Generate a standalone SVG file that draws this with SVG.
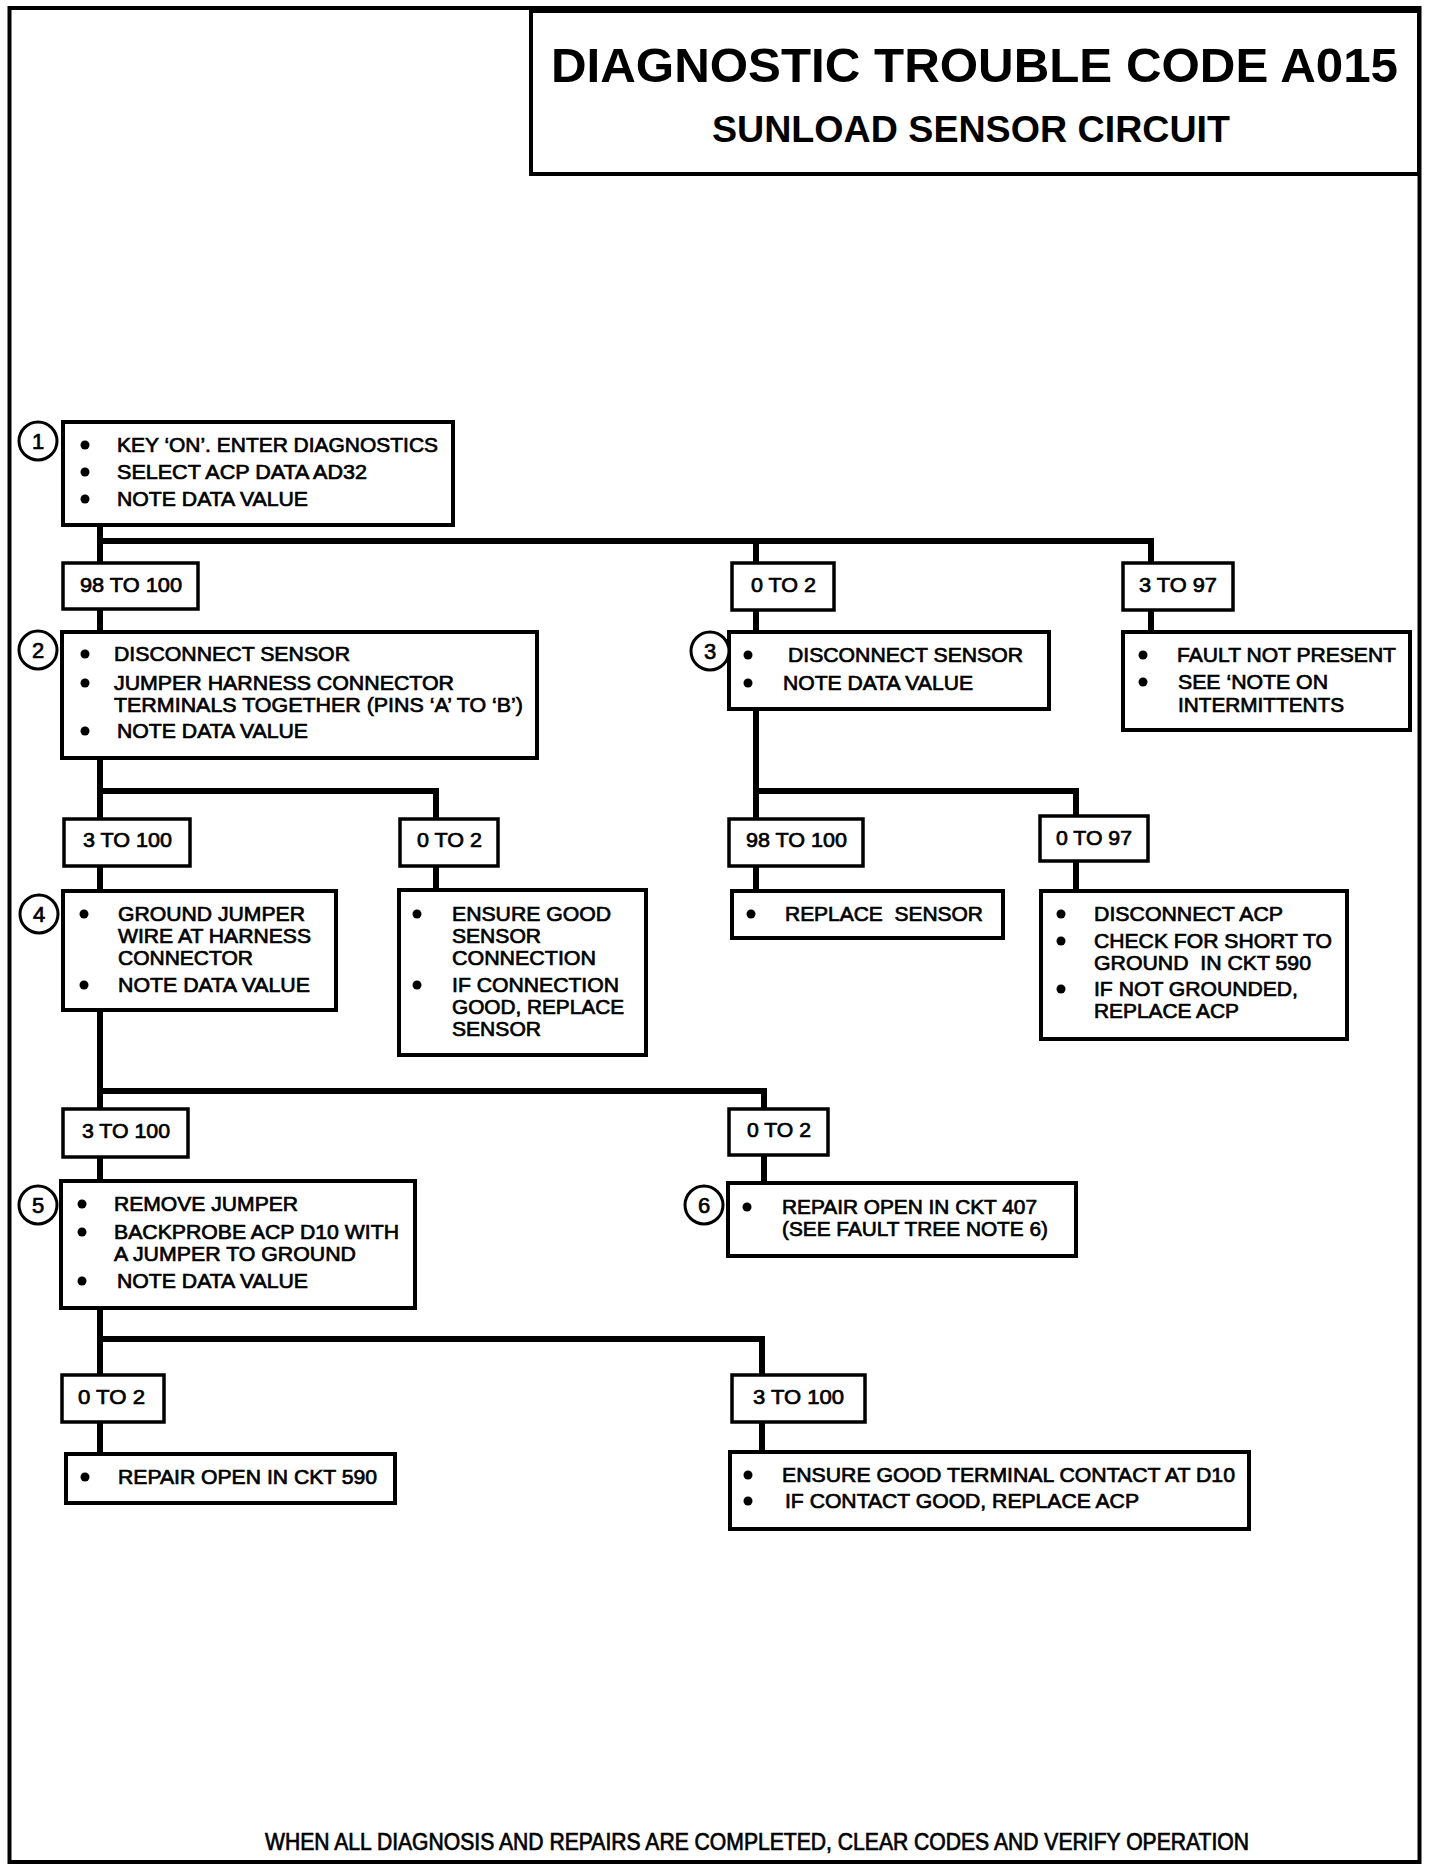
<svg xmlns="http://www.w3.org/2000/svg" width="1440" height="1874" viewBox="0 0 1440 1874">
<style>
.frame{fill:none;stroke:#000;stroke-width:4}
.bx{fill:#fff;stroke:#000;stroke-width:4}
.lb{fill:#fff;stroke:#000;stroke-width:3.5}
.cn{fill:none;stroke:#000;stroke-width:6;stroke-linejoin:miter;stroke-linecap:butt}
.ci{fill:#fff;stroke:#000;stroke-width:3}
.bu{fill:#000}
.t{font-family:"Liberation Sans",Arial,Helvetica,sans-serif;font-size:21px;fill:#000;stroke:#000;stroke-width:0.7}
.l{font-size:21px}
.n{font-size:22px;text-anchor:middle}
.h{font-weight:bold;stroke:none}
</style>
<rect width="1440" height="1874" fill="#fff"/>
<rect class="frame" x="9.5" y="8" width="1410" height="1854"/>
<g id="title">
<rect class="frame" x="531" y="11" width="888" height="163"/>
<text class="t h" x="551" y="82" textLength="847" lengthAdjust="spacingAndGlyphs" style="font-size:49px">DIAGNOSTIC TROUBLE CODE A015</text>
<text class="t h" x="712" y="142" textLength="518" lengthAdjust="spacingAndGlyphs" style="font-size:37px">SUNLOAD SENSOR CIRCUIT</text>
</g>
<g id="connectors">
<path class="cn" d="M100,520 V570 M100,541 H1151 V570 M756,541 V570"/>
<path class="cn" d="M100,605 V636 M756,605 V636 M1151,605 V636"/>
<path class="cn" d="M100,754 V823 M100,791 H436 V823"/>
<path class="cn" d="M100,862 V895 M436,862 V895"/>
<path class="cn" d="M756,705 V823 M756,791 H1076 V820"/>
<path class="cn" d="M756,862 V895 M1076,857 V895"/>
<path class="cn" d="M100,1006 V1113 M100,1091 H764 V1113"/>
<path class="cn" d="M100,1153 V1185 M764,1151 V1187"/>
<path class="cn" d="M100,1304 V1379 M100,1339 H762 V1379"/>
<path class="cn" d="M100,1418 V1458 M762,1418 V1456"/>
</g>
<g id="n1">
<rect class="bx" x="63" y="422" width="390" height="103"/>
<circle class="ci" cx="38" cy="441" r="19"/><text class="t n" x="38" y="449">1</text>
<circle class="bu" cx="85" cy="445" r="4.5"/><circle class="bu" cx="85" cy="472" r="4.5"/><circle class="bu" cx="85" cy="499" r="4.5"/>
<text class="t" x="117" y="452" textLength="321" lengthAdjust="spacingAndGlyphs">KEY ‘ON’. ENTER DIAGNOSTICS</text>
<text class="t" x="117" y="479" textLength="250" lengthAdjust="spacingAndGlyphs">SELECT ACP DATA AD32</text>
<text class="t" x="117" y="506" textLength="191" lengthAdjust="spacingAndGlyphs">NOTE DATA VALUE</text>
</g>
<g id="l1"><rect class="lb" x="63" y="563" width="135" height="46"/><text class="t l" x="80" y="592" textLength="102" lengthAdjust="spacingAndGlyphs">98 TO 100</text></g>
<g id="l2"><rect class="lb" x="732" y="563" width="102" height="47"/><text class="t l" x="751" y="592" textLength="65" lengthAdjust="spacingAndGlyphs">0 TO 2</text></g>
<g id="l3"><rect class="lb" x="1123" y="563" width="110" height="47"/><text class="t l" x="1139" y="592" textLength="78" lengthAdjust="spacingAndGlyphs">3 TO 97</text></g>
<g id="n2">
<rect class="bx" x="62" y="632" width="475" height="126"/>
<circle class="ci" cx="38" cy="650" r="19"/><text class="t n" x="38" y="658">2</text>
<circle class="bu" cx="85" cy="654" r="4.5"/><circle class="bu" cx="85" cy="683" r="4.5"/><circle class="bu" cx="85" cy="731" r="4.5"/>
<text class="t" x="114" y="661" textLength="236" lengthAdjust="spacingAndGlyphs">DISCONNECT SENSOR</text>
<text class="t" x="114" y="690" textLength="340" lengthAdjust="spacingAndGlyphs">JUMPER HARNESS CONNECTOR</text>
<text class="t" x="114" y="712" textLength="409" lengthAdjust="spacingAndGlyphs">TERMINALS TOGETHER (PINS ‘A’ TO ‘B’)</text>
<text class="t" x="117" y="738" textLength="191" lengthAdjust="spacingAndGlyphs">NOTE DATA VALUE</text>
</g>
<g id="n3">
<rect class="bx" x="729" y="632" width="320" height="77"/>
<circle class="ci" cx="710" cy="651" r="19"/><text class="t n" x="710" y="659">3</text>
<circle class="bu" cx="748" cy="655" r="4.5"/><circle class="bu" cx="748" cy="683" r="4.5"/>
<text class="t" x="788" y="662" textLength="235" lengthAdjust="spacingAndGlyphs">DISCONNECT SENSOR</text>
<text class="t" x="783" y="690" textLength="190" lengthAdjust="spacingAndGlyphs">NOTE DATA VALUE</text>
</g>
<g id="n_fault">
<rect class="bx" x="1123" y="632" width="287" height="98"/>
<circle class="bu" cx="1143" cy="655" r="4.5"/><circle class="bu" cx="1143" cy="682" r="4.5"/>
<text class="t" x="1177" y="662" textLength="219" lengthAdjust="spacingAndGlyphs">FAULT NOT PRESENT</text>
<text class="t" x="1178" y="689" textLength="150" lengthAdjust="spacingAndGlyphs">SEE ‘NOTE ON</text>
<text class="t" x="1178" y="712" textLength="166" lengthAdjust="spacingAndGlyphs">INTERMITTENTS</text>
</g>
<g id="l4"><rect class="lb" x="64" y="819" width="126" height="47"/><text class="t l" x="83" y="847" textLength="89" lengthAdjust="spacingAndGlyphs">3 TO 100</text></g>
<g id="l5"><rect class="lb" x="400" y="819" width="98" height="47"/><text class="t l" x="417" y="847" textLength="65" lengthAdjust="spacingAndGlyphs">0 TO 2</text></g>
<g id="l6"><rect class="lb" x="729" y="819" width="134" height="47"/><text class="t l" x="746" y="847" textLength="101" lengthAdjust="spacingAndGlyphs">98 TO 100</text></g>
<g id="l7"><rect class="lb" x="1040" y="816" width="108" height="45"/><text class="t l" x="1056" y="845" textLength="76" lengthAdjust="spacingAndGlyphs">0 TO 97</text></g>
<g id="n4">
<rect class="bx" x="63" y="891" width="273" height="119"/>
<circle class="ci" cx="39" cy="914" r="19"/><text class="t n" x="39" y="922">4</text>
<circle class="bu" cx="84" cy="914" r="4.5"/><circle class="bu" cx="84" cy="985" r="4.5"/>
<text class="t" x="118" y="921" textLength="187" lengthAdjust="spacingAndGlyphs">GROUND JUMPER</text>
<text class="t" x="118" y="943" textLength="193" lengthAdjust="spacingAndGlyphs">WIRE AT HARNESS</text>
<text class="t" x="118" y="965" textLength="135" lengthAdjust="spacingAndGlyphs">CONNECTOR</text>
<text class="t" x="118" y="992" textLength="192" lengthAdjust="spacingAndGlyphs">NOTE DATA VALUE</text>
</g>
<g id="n_ensure_sensor">
<rect class="bx" x="399" y="890" width="247" height="165"/>
<circle class="bu" cx="417" cy="914" r="4.5"/><circle class="bu" cx="417" cy="985" r="4.5"/>
<text class="t" x="452" y="921" textLength="159" lengthAdjust="spacingAndGlyphs">ENSURE GOOD</text>
<text class="t" x="452" y="943" textLength="89" lengthAdjust="spacingAndGlyphs">SENSOR</text>
<text class="t" x="452" y="965" textLength="144" lengthAdjust="spacingAndGlyphs">CONNECTION</text>
<text class="t" x="452" y="992" textLength="167" lengthAdjust="spacingAndGlyphs">IF CONNECTION</text>
<text class="t" x="452" y="1014" textLength="172" lengthAdjust="spacingAndGlyphs">GOOD, REPLACE</text>
<text class="t" x="452" y="1036" textLength="89" lengthAdjust="spacingAndGlyphs">SENSOR</text>
</g>
<g id="n_replace_sensor">
<rect class="bx" x="732" y="891" width="271" height="47"/>
<circle class="bu" cx="751" cy="914" r="4.5"/>
<text class="t" x="785" y="921" textLength="198" lengthAdjust="spacingAndGlyphs" xml:space="preserve">REPLACE  SENSOR</text>
</g>
<g id="n_disconnect_acp">
<rect class="bx" x="1041" y="891" width="306" height="148"/>
<circle class="bu" cx="1061" cy="914" r="4.5"/><circle class="bu" cx="1061" cy="941" r="4.5"/><circle class="bu" cx="1061" cy="989" r="4.5"/>
<text class="t" x="1094" y="921" textLength="189" lengthAdjust="spacingAndGlyphs">DISCONNECT ACP</text>
<text class="t" x="1094" y="948" textLength="238" lengthAdjust="spacingAndGlyphs">CHECK FOR SHORT TO</text>
<text class="t" x="1094" y="970" textLength="217" lengthAdjust="spacingAndGlyphs" xml:space="preserve">GROUND  IN CKT 590</text>
<text class="t" x="1094" y="996" textLength="204" lengthAdjust="spacingAndGlyphs">IF NOT GROUNDED,</text>
<text class="t" x="1094" y="1018" textLength="145" lengthAdjust="spacingAndGlyphs">REPLACE ACP</text>
</g>
<g id="l8"><rect class="lb" x="63" y="1109" width="125" height="48"/><text class="t l" x="82" y="1138" textLength="88" lengthAdjust="spacingAndGlyphs">3 TO 100</text></g>
<g id="l9"><rect class="lb" x="729" y="1109" width="99" height="46"/><text class="t l" x="747" y="1137" textLength="64" lengthAdjust="spacingAndGlyphs">0 TO 2</text></g>
<g id="n5">
<rect class="bx" x="61" y="1181" width="354" height="127"/>
<circle class="ci" cx="38" cy="1205" r="19"/><text class="t n" x="38" y="1213">5</text>
<circle class="bu" cx="82" cy="1204" r="4.5"/><circle class="bu" cx="82" cy="1232" r="4.5"/><circle class="bu" cx="82" cy="1281" r="4.5"/>
<text class="t" x="114" y="1211" textLength="184" lengthAdjust="spacingAndGlyphs">REMOVE JUMPER</text>
<text class="t" x="114" y="1239" textLength="285" lengthAdjust="spacingAndGlyphs">BACKPROBE ACP D10 WITH</text>
<text class="t" x="114" y="1261" textLength="242" lengthAdjust="spacingAndGlyphs">A JUMPER TO GROUND</text>
<text class="t" x="117" y="1288" textLength="191" lengthAdjust="spacingAndGlyphs">NOTE DATA VALUE</text>
</g>
<g id="n6">
<rect class="bx" x="728" y="1183" width="348" height="73"/>
<circle class="ci" cx="704" cy="1205" r="19"/><text class="t n" x="704" y="1213">6</text>
<circle class="bu" cx="747" cy="1207" r="4.5"/>
<text class="t" x="782" y="1214" textLength="255" lengthAdjust="spacingAndGlyphs">REPAIR OPEN IN CKT 407</text>
<text class="t" x="782" y="1236" textLength="266" lengthAdjust="spacingAndGlyphs">(SEE FAULT TREE NOTE 6)</text>
</g>
<g id="l10"><rect class="lb" x="62" y="1375" width="102" height="47"/><text class="t l" x="78" y="1404" textLength="67" lengthAdjust="spacingAndGlyphs">0 TO 2</text></g>
<g id="l11"><rect class="lb" x="732" y="1375" width="133" height="47"/><text class="t l" x="753" y="1404" textLength="91" lengthAdjust="spacingAndGlyphs">3 TO 100</text></g>
<g id="n_repair_590">
<rect class="bx" x="66" y="1454" width="329" height="49"/>
<circle class="bu" cx="85" cy="1477" r="4.5"/>
<text class="t" x="118" y="1484" textLength="259" lengthAdjust="spacingAndGlyphs">REPAIR OPEN IN CKT 590</text>
</g>
<g id="n_ensure_terminal">
<rect class="bx" x="730" y="1452" width="519" height="77"/>
<circle class="bu" cx="748" cy="1475" r="4.5"/><circle class="bu" cx="748" cy="1501" r="4.5"/>
<text class="t" x="782" y="1482" textLength="453" lengthAdjust="spacingAndGlyphs">ENSURE GOOD TERMINAL CONTACT AT D10</text>
<text class="t" x="785" y="1508" textLength="354" lengthAdjust="spacingAndGlyphs">IF CONTACT GOOD, REPLACE ACP</text>
</g>
<g id="footer">
<text class="t" x="265" y="1850" textLength="984" lengthAdjust="spacingAndGlyphs" style="font-size:23px">WHEN ALL DIAGNOSIS AND REPAIRS ARE COMPLETED, CLEAR CODES AND VERIFY OPERATION</text>
</g>
</svg>
